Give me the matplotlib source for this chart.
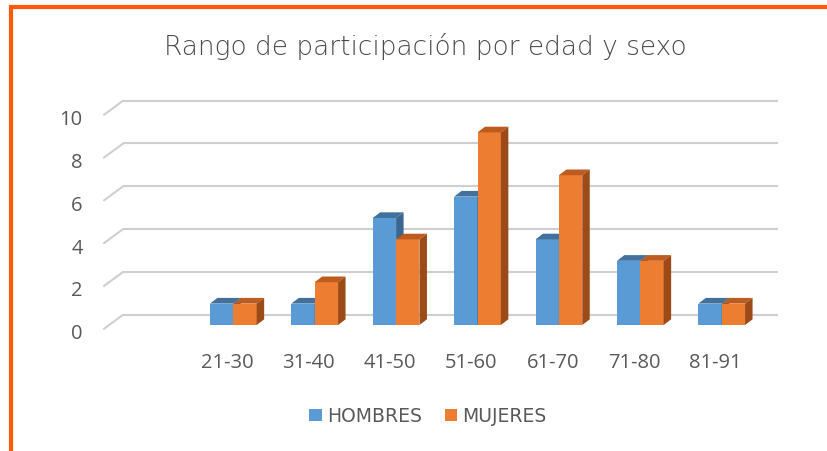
import matplotlib
matplotlib.use("Agg")
import matplotlib.pyplot as plt
from matplotlib.patches import Polygon, Patch
from matplotlib.lines import Line2D

# ---- data ----
categories = ['21-30', '31-40', '41-50', '51-60', '61-70', '71-80', '81-91']
hombres = [1, 1, 5, 6, 4, 3, 1]
mujeres = [1, 2, 4, 9, 7, 3, 1]
series_names = ['HOMBRES', 'MUJERES']
yticks = [0, 2, 4, 6, 8, 10]
title = 'Rango de participación por edad y sexo'

# ---- style ----
W, H = 827, 452
BLUE = ('#5B9BD5', '#41719C', '#3A6690')     # front, top, side
ORANGE = ('#ED7D31', '#BE5B1E', '#9C4A17')
GRID = '#CFCFCF'
TXT = '#595959'
FRAME = '#FF5A0A'
BAR_W = 0.287
DX, DY = 0.092, 0.266           # bar depth offsets (data units)
G_BACK_DY, G_FRONT_DY = 0.49, -0.20
G_X0_FRONT, G_X0_BACK, G_X1 = -1.597, -1.351, 6.688

fig = plt.figure(figsize=(W / 100, H / 100), dpi=100)
ax = fig.add_axes([90 / W, 1 - 340 / H, 700 / W, 250 / H])
ax.set_xlim((90 - 233.3) / 81.4, (790 - 233.3) / 81.4)
ax.set_ylim((326 - 340) / 21.4, (326 - 90) / 21.4)
ax.axis('off')

# gridlines (back wall + left diagonal)
for v in yticks:
    ax.plot([G_X0_BACK, G_X1], [v + G_BACK_DY, v + G_BACK_DY], color=GRID, lw=1.5,
            solid_capstyle='butt', zorder=1)
    ax.plot([G_X0_FRONT, G_X0_BACK], [v + G_FRONT_DY, v + G_BACK_DY], color=GRID, lw=1.5,
            solid_capstyle='butt', zorder=1)
    ax.text(-1.85, v - 0.38, str(v), ha='right', va='center', fontsize=14.5,
            family='Open Sans', color=TXT)


def box(x_left, h, cols):
    xr = x_left + BAR_W
    ax.add_patch(Polygon([(x_left, 0), (xr, 0), (xr, h), (x_left, h)], closed=True,
                         facecolor=cols[0], edgecolor='none', zorder=3))
    ax.add_patch(Polygon([(x_left, h), (xr, h), (xr + DX, h + DY), (x_left + DX, h + DY)],
                         closed=True, facecolor=cols[1], edgecolor='none', zorder=3))
    ax.add_patch(Polygon([(xr, 0), (xr + DX, DY), (xr + DX, h + DY), (xr, h)], closed=True,
                         facecolor=cols[2], edgecolor='none', zorder=3))


for i, (hv, mv) in enumerate(zip(hombres, mujeres)):
    box(i - BAR_W, hv, BLUE)
    box(i, mv, ORANGE)
    ax.text(i - 0.075, -1.72, categories[i], ha='center', va='center', fontsize=14.5,
            family='Open Sans', color=TXT)

fig.text(425 / W, 1 - 47 / H, title, ha='center', va='center', fontsize=19,
         family='DejaVu Sans', fontweight='light', color='#4A4A4A')

handles = [Patch(facecolor=BLUE[0], edgecolor='none'),
           Patch(facecolor=ORANGE[0], edgecolor='none')]
fig.legend(handles, series_names, loc='center', bbox_to_anchor=(428 / W, 1 - 417 / H),
           ncol=2, frameon=False, handlelength=0.65, handleheight=0.65,
           handletextpad=0.27, columnspacing=1.26,
           prop={'family': 'DejaVu Sans', 'size': 13.5}, labelcolor=TXT)

# orange frame (left and top edges)
fig.add_artist(Line2D([11.3 / W, 11.3 / W], [0, 1 - 6 / H], color=FRAME, lw=3,
                      solid_capstyle='butt'))
fig.add_artist(Line2D([9.3 / W, 1], [1 - 8 / H, 1 - 8 / H], color=FRAME, lw=3,
                      solid_capstyle='butt'))

fig.savefig('out.png', dpi=100)
